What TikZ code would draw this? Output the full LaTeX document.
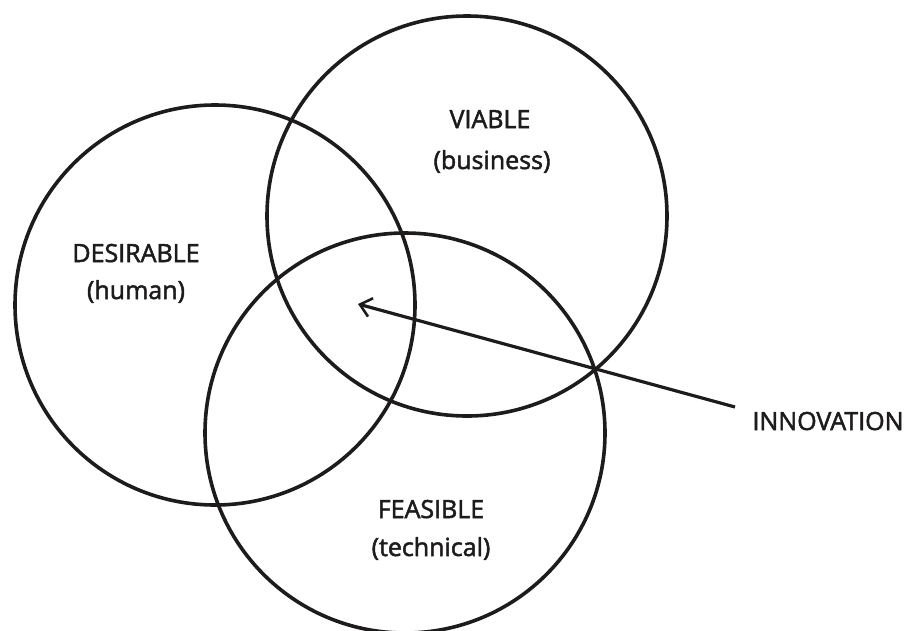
\documentclass[tikz,border=0pt]{standalone}
\usepackage{fontspec}
\setmainfont{Open Sans}
\newfontfamily\handfont{Open Sans}[FakeBold=2.0]
\usetikzlibrary{arrows.meta}
\definecolor{ink}{HTML}{1E1B1C}
\begin{document}
\begin{tikzpicture}[x=1pt,y=-1pt,
  setcircle/.style={circle, draw=ink, line width=3.6pt, minimum size=400pt, inner sep=0pt},
  lbl/.style={font=\handfont\fontsize{25}{30}\selectfont, text=ink, inner sep=0pt, anchor=base},
  pointer/.style={draw=ink, line width=3.2pt,
    {Straight Barb[length=11pt, width=19pt, line width=2.6pt]}-}]
  % page frame
  \useasboundingbox (0,0) rectangle (911,630);
  % the three sets
  \node[setcircle] (desirable) at (215,305) {};
  \node[setcircle] (viable)    at (467,216) {};
  \node[setcircle] (feasible)  at (405,433) {};
  % set labels
  \node[lbl] (viabletitle) at (490,128) {VIABLE};
  \node[lbl] (viablesub)   at (492,169) {(business)};
  \node[lbl] (desirtitle)  at (136,262) {DESIRABLE};
  \node[lbl] (desirsub)    at (136,299) {(human)};
  \node[lbl] (feastitle)   at (431,518) {FEASIBLE};
  \node[lbl] (feassub)     at (431,556) {(technical)};
  \node[lbl] (innovation)  at (828,430) {INNOVATION};
  % pointer into the common overlap
  \coordinate (overlap) at (358,304);
  \coordinate (tail) at (735,407);
  \draw[pointer] (overlap) -- (tail);
\end{tikzpicture}
\end{document}
